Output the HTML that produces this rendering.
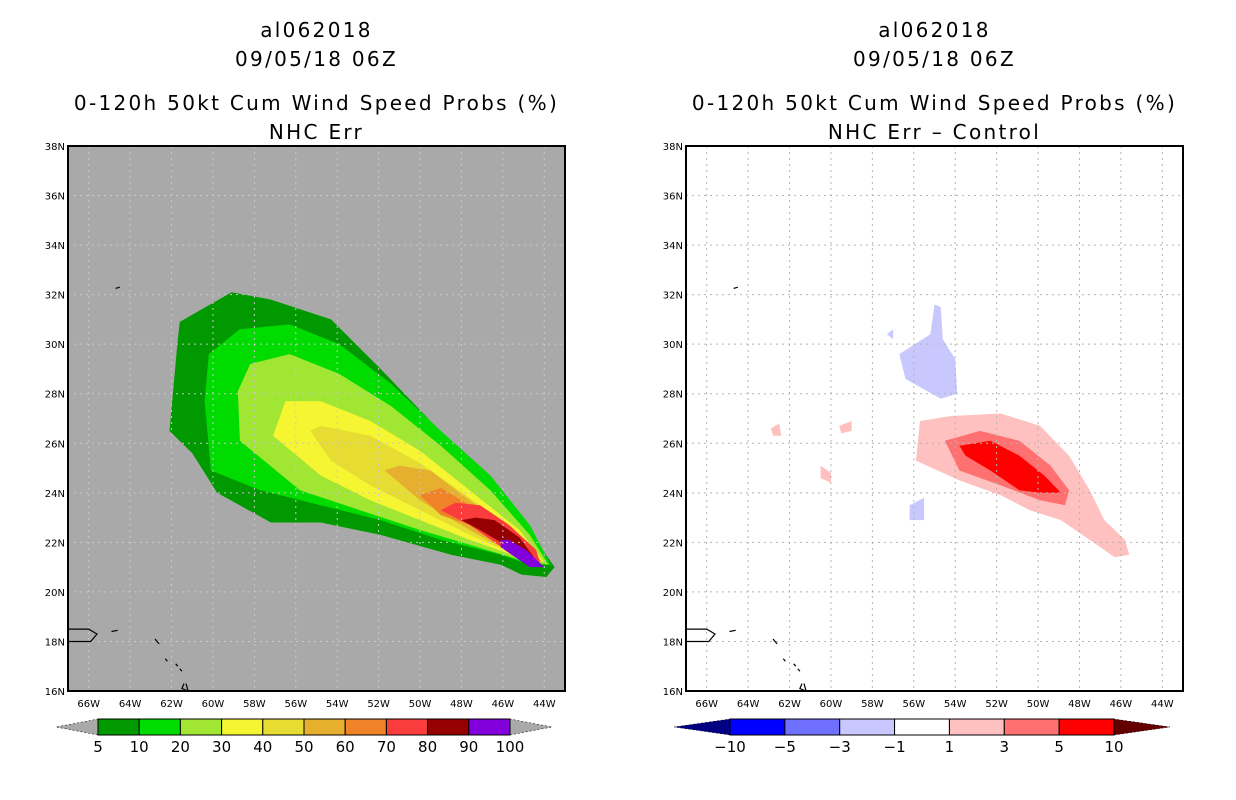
<!DOCTYPE html>
<html><head><meta charset="utf-8"><style>
html,body{margin:0;padding:0;background:#fff;width:1236px;height:800px;overflow:hidden}
svg text{font-family:"DejaVu Sans","Liberation Sans",sans-serif}
</style></head><body>
<svg id="s" width="1236" height="800" xmlns="http://www.w3.org/2000/svg"></svg>
<script>
const lonTicks=[-66,-64,-62,-60,-58,-56,-54,-52,-50,-48,-46,-44];
const lonLabels=["66W","64W","62W","60W","58W","56W","54W","52W","50W","48W","46W","44W"];
const latTicks=[16,18,20,22,24,26,28,30,32,34,36,38];
const latLabels=["16N","18N","20N","22N","24N","26N","28N","30N","32N","34N","36N","38N"];
const probLevels=["5","10","20","30","40","50","60","70","80","90","100"];
const probColors=["#009a00","#00dc00","#a0e632","#f5f532","#e6dc32","#e6af2d","#f08228","#fa3c3c","#960000","#8200dc"];
const diffLevels=["-10","-5","-3","-1","1","3","5","10"];
const diffColors=["#0000ff","#7070ff","#c8c8ff","#ffffff","#ffc0c0","#ff7070","#ff0000"];
const p5=[[-62.1,26.5],[-61.7,30.2],[-61.6,30.9],[-59.1,32.1],[-57.2,31.8],[-54.3,31.0],[-51.9,29.0],[-49.5,26.9],[-47.1,24.9],[-45.1,22.9],[-43.5,21.0],[-43.9,20.6],[-45.1,20.7],[-46.1,21.1],[-48.5,21.5],[-51.9,22.3],[-54.8,22.8],[-57.2,22.8],[-59.8,24.0],[-61.0,25.6]];
const p10=[[-60.1,24.9],[-60.4,27.7],[-60.2,29.6],[-58.7,30.6],[-56.3,30.8],[-53.9,30.0],[-51.4,28.4],[-49.0,26.5],[-46.6,24.7],[-44.7,22.7],[-43.7,21.1],[-44.7,21.1],[-46.1,21.5],[-49.0,22.1],[-51.9,22.9],[-54.8,23.5],[-57.7,24.1]];
const p20=[[-58.7,26.1],[-58.8,28.1],[-58.2,29.2],[-56.3,29.6],[-53.9,28.8],[-51.4,27.5],[-49.0,25.9],[-46.6,24.1],[-44.7,22.3],[-43.8,21.1],[-45.2,21.3],[-47.6,21.9],[-50.0,22.5],[-52.9,23.3],[-55.8,24.1]];
const p30=[[-57.1,26.3],[-56.5,27.7],[-54.8,27.7],[-52.4,26.9],[-50.0,25.7],[-47.6,24.1],[-45.2,22.5],[-44.0,21.2],[-45.2,21.4],[-47.6,22.1],[-50.0,22.9],[-52.4,23.7],[-54.8,24.7]];
const p40=[[-55.3,26.5],[-54.8,26.7],[-52.4,26.3],[-50.0,25.2],[-47.6,23.8],[-45.2,22.3],[-44.1,21.2],[-45.4,21.5],[-47.6,22.3],[-50.0,23.3],[-52.4,24.3],[-54.3,25.3]];
const p50=[[-51.7,24.9],[-51.0,25.1],[-49.5,24.9],[-47.6,23.7],[-45.2,22.2],[-44.1,21.2],[-45.4,21.5],[-47.6,22.5],[-50.0,23.7]];
const p60=[[-50.0,23.9],[-49.0,24.2],[-47.6,23.5],[-45.2,22.1],[-44.2,21.2],[-45.6,21.6],[-47.6,22.7],[-49.0,23.1]];
const p70=[[-49.0,23.3],[-48.3,23.6],[-47.1,23.5],[-45.7,22.7],[-44.4,21.7],[-44.2,21.2],[-45.7,21.6],[-47.6,22.7]];
const p80=[[-48.0,22.9],[-47.3,23.0],[-46.4,22.9],[-45.2,22.2],[-44.5,21.4],[-45.7,21.8],[-47.1,22.5]];
const p90=[[-46.1,22.1],[-45.7,22.1],[-44.9,21.7],[-44.0,21.0],[-44.7,21.0],[-45.4,21.4],[-46.1,21.8]];
const dBlue=[[-56.7,29.6],[-55.2,30.4],[-55.0,31.6],[-54.7,31.5],[-54.6,30.2],[-54.0,29.4],[-53.9,28.0],[-54.7,27.8],[-56.4,28.6]];
const dBlue2=[[-56.2,23.5],[-55.5,23.8],[-55.5,22.9],[-56.2,22.9]];
const dBlue3=[[-57.3,30.4],[-57.0,30.6],[-57.0,30.2]];
const dPink=[[-55.7,26.9],[-54.2,27.1],[-51.8,27.2],[-49.9,26.7],[-48.5,25.5],[-47.5,24.1],[-46.8,22.9],[-45.8,22.1],[-45.6,21.5],[-46.3,21.4],[-47.5,22.1],[-48.9,22.9],[-50.4,23.3],[-51.8,23.9],[-53.8,24.5],[-55.9,25.3]];
const dPink2=[[-62.9,26.6],[-62.5,26.8],[-62.4,26.3],[-62.8,26.3]];
const dPink3=[[-60.5,25.1],[-60.0,24.8],[-60.0,24.4],[-60.5,24.6]];
const dPink4=[[-59.6,26.7],[-59.0,26.9],[-59.0,26.5],[-59.5,26.4]];
const dSalmon=[[-54.5,26.1],[-52.8,26.5],[-50.9,26.1],[-49.4,25.1],[-48.5,24.1],[-48.7,23.5],[-49.9,23.7],[-51.8,24.3],[-53.8,24.9]];
const dRed=[[-53.8,25.9],[-52.3,26.1],[-50.9,25.5],[-49.7,24.7],[-48.9,24.0],[-49.9,24.0],[-50.9,24.1],[-52.3,24.9],[-53.5,25.5]];
const coast=[[[-67,18.5],[-66,18.5],[-65.6,18.3],[-65.9,18.0],[-67,18.0]],[[-64.9,18.4],[-64.6,18.45]],[[-64.5,32.3],[-64.7,32.25]],[[-62.8,18.1],[-62.6,17.9]],[[-61.8,17.1],[-61.7,17.0]],[[-61.4,16.3],[-61.5,16.1],[-61.2,16.0],[-61.3,16.3]],[[-61.3,15.6],[-61.2,15.4]],[[-61.6,16.9],[-61.5,16.8]],[[-62.3,17.3],[-62.2,17.2]]];

const NS="http://www.w3.org/2000/svg";
const svg=document.getElementById('s');
function mk(t,a,p){const e=document.createElementNS(NS,t);for(const k in a)e.setAttribute(k,a[k]);(p||svg).appendChild(e);return e;}
const W=497,H=545,T=146;
function xs(x0){return lon=>x0+(lon+67)/24*W;}
function ys(lat){return T+(38-lat)/22*H;}
function poly(pts,X,col,g){return mk('polygon',{points:pts.map(p=>X(p[0]).toFixed(1)+','+ys(p[1]).toFixed(1)).join(' '),fill:col},g);}
function txt(s,x,y,size,anchor,p){const t=mk('text',{x:x,y:y,'font-size':size,'text-anchor':anchor||'middle',fill:'#000'},p);t.textContent=s;return t;}

function panel(x0,bg,title2,contours,gridCol,name){
  const g=mk('g',{});
  
  
  const X=xs(x0);const cx=x0+W/2;
  [["al062018",37],["09/05/18 06Z",66],["0-120h 50kt Cum Wind Speed Probs (%)",110],[title2,139]].forEach((l,i)=>{
    const t=txt(l[0],cx,l[1],20,'middle',g);t.setAttribute('letter-spacing','2.3');
    });
  const clip=mk('clipPath',{id:'c'+x0},g);mk('rect',{x:x0,y:T,width:W,height:H},clip);
  mk('rect',{x:x0,y:T,width:W,height:H,fill:bg},g);
  const cg=mk('g',{'clip-path':'url(#c'+x0+')'},g);
  
  
  contours.forEach(c=>poly(c[0],X,c[1],cg));
  lonTicks.forEach(v=>mk('line',{x1:X(v),x2:X(v),y1:T,y2:T+H,stroke:gridCol,'stroke-dasharray':'2,4','stroke-width':1},cg));
  latTicks.forEach(v=>mk('line',{x1:x0,x2:x0+W,y1:ys(v),y2:ys(v),stroke:gridCol,'stroke-dasharray':'2,4','stroke-width':1},cg));
  coast.forEach(c=>mk('polyline',{points:c.map(p=>X(p[0]).toFixed(1)+','+ys(p[1]).toFixed(1)).join(' '),fill:'none',stroke:'#000','stroke-width':1.2},cg));
  mk('rect',{x:x0,y:T,width:W,height:H,fill:'none',stroke:'#000','stroke-width':2},g);
  lonTicks.forEach((v,i)=>{const t=txt(lonLabels[i],X(v),707,10,'middle',g);});
  latTicks.forEach((v,i)=>{const t=txt(latLabels[i],x0-3,ys(v)+4,10,'end',g);});
}
const gray="#a9a9a9";
panel(68,gray,"NHC Err",[[p5,probColors[0]],[p10,probColors[1]],[p20,probColors[2]],[p30,probColors[3]],[p40,probColors[4]],[p50,probColors[5]],[p60,probColors[6]],[p70,probColors[7]],[p80,probColors[8]],[p90,probColors[9]]],"#c8c8c8","left-panel-nhc-err");
panel(686,"#fff","NHC Err – Control",[[dBlue,diffColors[2]],[dBlue2,diffColors[2]],[dBlue3,diffColors[2]],[dPink,diffColors[4]],[dPink2,diffColors[4]],[dPink3,diffColors[4]],[dPink4,diffColors[4]],[dSalmon,diffColors[5]],[dRed,diffColors[6]]],"#b4b4b4","right-panel-difference");

function colorbar(x0,x1,xEnd,colors,labels,lcol,rcol,name){
  const g=mk('g',{});
  
  
  const y0=719,y1=735,ym=727;const bw=(x1-x0)/colors.length;
  mk('polygon',{points:`${x0},${y0} ${x0},${y1} ${x0-(xEnd-x1)},${ym}`,fill:lcol,stroke:'#000','stroke-width':0.5,'stroke-dasharray':'2,2'},g);
  mk('polygon',{points:`${x1},${y0} ${x1},${y1} ${xEnd},${ym}`,fill:rcol,stroke:'#000','stroke-width':0.5,'stroke-dasharray':'2,2'},g);
  colors.forEach((c,i)=>mk('rect',{x:x0+i*bw,y:y0,width:bw,height:y1-y0,fill:c,stroke:'#000','stroke-width':1},g));
  labels.forEach((l,i)=>{const t=txt(l.replace('-','−'),x0+i*bw,752,15,'middle',g);});
}
colorbar(98,510,552,probColors,probLevels,gray,gray,"left-colorbar");
colorbar(730,1114,1170,diffColors,diffLevels,"#000080","#640000","right-colorbar");
</script>
</body></html>
